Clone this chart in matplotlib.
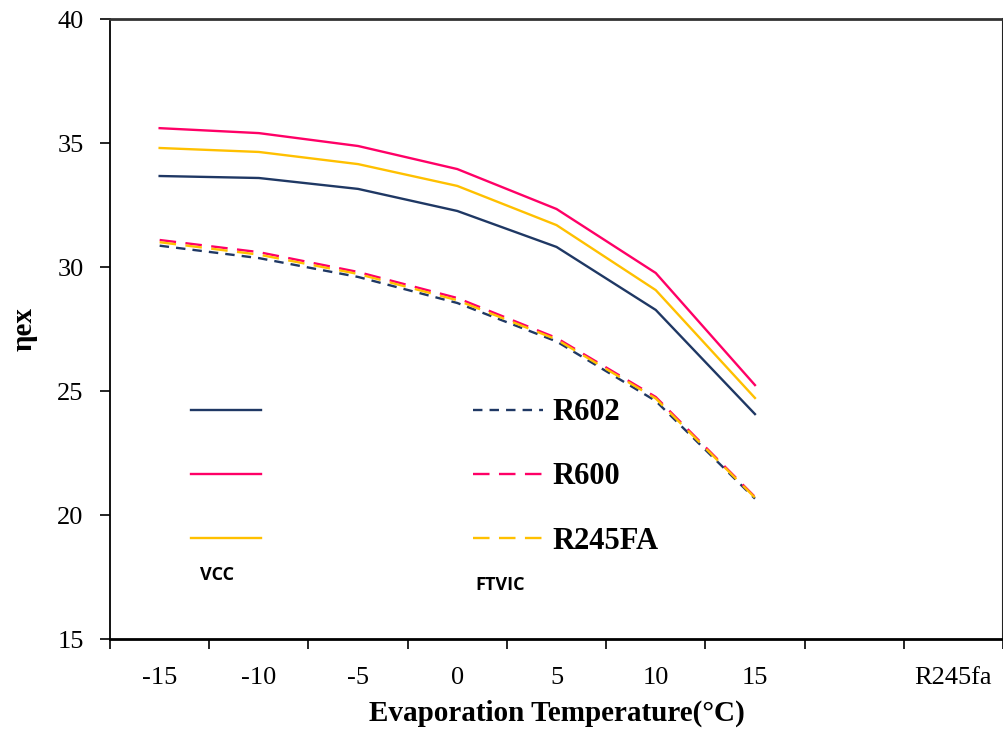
import numpy as np
import matplotlib.pyplot as plt

# x categories (the last two slots are an empty gap and a stray "R245fa" label)
categories = ["-15", "-10", "-5", "0", "5", "10", "15", "", "R245fa"]
temps = ["-15", "-10", "-5", "0", "5", "10", "15"]

# exergy efficiency, VCC (solid) and FTVIC (dashed)
vcc_r602 = [33.67, 33.59, 33.15, 32.26, 30.81, 28.27, 24.07]
vcc_r600 = [35.60, 35.40, 34.88, 33.95, 32.34, 29.76, 25.24]
vcc_r245fa = [34.80, 34.64, 34.15, 33.27, 31.69, 29.07, 24.72]
ftvic_r602 = [30.86, 30.36, 29.60, 28.55, 27.00, 24.60, 20.66]
ftvic_r600 = [31.09, 30.60, 29.80, 28.75, 27.14, 24.76, 20.73]
ftvic_r245fa = [31.00, 30.50, 29.72, 28.66, 27.08, 24.70, 20.70]

refrigerants = ["R602", "R600", "R245FA"]

NAVY = "#1F3864"
PINK = "#FF0066"
GOLD = "#FFC000"
colors = [NAVY, PINK, GOLD]

plt.rcParams["font.family"] = ["Liberation Serif", "DejaVu Serif"]

fig = plt.figure(figsize=(10.04, 7.35), dpi=100)
ax = fig.add_axes([0.1096, 0.1306, 0.8894, 0.8435])

x = np.arange(len(temps))
lw = 1.7

vcc_lines = []
for vals, c in zip([vcc_r602, vcc_r600, vcc_r245fa], colors):
    (ln,) = ax.plot(x, vals, color=c, lw=lw, solid_joinstyle="miter")
    vcc_lines.append(ln)

dash_styles = [(0, (4, 3)), (0, (7, 4)), (0, (7, 4))]
ftvic_lines = []
for vals, c, ds in zip([ftvic_r602, ftvic_r600, ftvic_r245fa], colors, dash_styles):
    (ln,) = ax.plot(x, vals, color=c, lw=lw, linestyle=ds)
    ftvic_lines.append(ln)

ax.set_xlim(-0.5, len(categories) - 0.5)
ax.set_ylim(15, 40)
ax.set_yticks(np.arange(15, 41, 5))
ax.tick_params(axis="y", direction="out", length=7, width=1.2, pad=12, labelsize=19)

ax.set_xticks(np.arange(len(categories)))
ax.set_xticklabels(categories)
ax.set_xticks(np.arange(len(categories) + 1) - 0.5, minor=True)
ax.tick_params(axis="x", which="major", length=0, pad=20, labelsize=19)
ax.tick_params(axis="x", which="minor", direction="out", length=7, width=1.2)

ax.spines["left"].set_linewidth(1.3)
ax.spines["bottom"].set_linewidth(2.0)
ax.spines["top"].set_linewidth(2.0)
ax.spines["top"].set_color("#333333")
ax.spines["right"].set_linewidth(1.5)
ax.spines["right"].set_color("#222222")

ax.set_xlabel("Evaporation Temperature(\u00b0C)", fontsize=21, fontweight="bold", labelpad=8)
ax.set_ylabel("\u03b7ex", fontsize=21, fontweight="bold", labelpad=14)

# left legend block (VCC, no labels)
leg1 = ax.legend(vcc_lines, ["", "", ""], loc="upper left",
                 bbox_to_anchor=(0.073, 0.413), frameon=False,
                 handlelength=2.3, labelspacing=1.15, borderpad=0,
                 handletextpad=0, prop={"size": 22, "weight": "bold"})
ax.add_artist(leg1)
ax.legend(ftvic_lines, refrigerants, loc="upper left",
          bbox_to_anchor=(0.389, 0.413), frameon=False,
          handlelength=2.3, labelspacing=1.15, borderpad=0,
          handletextpad=0.3, prop={"size": 22, "weight": "bold"})

ax.text(0.12, 0.104, "VCC", transform=ax.transAxes, ha="center", va="center",
        fontsize=13, fontweight="bold", family=["Open Sans", "DejaVu Sans"])
ax.text(0.437, 0.087, "FTVIC", transform=ax.transAxes, ha="center", va="center",
        fontsize=13, fontweight="bold", family=["Open Sans", "DejaVu Sans"])

fig.savefig("out.png", dpi=100)
